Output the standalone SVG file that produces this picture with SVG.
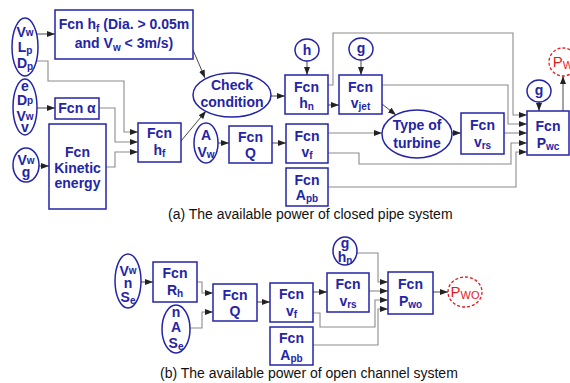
<svg xmlns="http://www.w3.org/2000/svg" width="570" height="383" viewBox="0 0 570 383">
<style>
.n{fill:#fff;stroke:#2424a6;stroke-width:1.5}
.t{font-family:"Liberation Sans",Arial,sans-serif;font-weight:bold;font-size:14px;fill:#2424a6;text-anchor:middle}
.s{font-size:10px}
.c{fill:none;stroke:#8c8c8c;stroke-width:1.1;marker-end:url(#a)}
.k{fill:none;stroke:#333;stroke-width:0.9;marker-end:url(#a)}
.r{fill:#fff;stroke:#e81818;stroke-width:1.3;stroke-dasharray:3,2}
.rt{font-family:"Liberation Sans",Arial,sans-serif;font-size:15px;fill:#e81818;text-anchor:middle}
.cap{font-family:"Liberation Sans",Arial,sans-serif;font-size:14px;fill:#111}
</style>
<defs>
<marker id="a" viewBox="0 0 8 6" refX="8" refY="3" markerWidth="8" markerHeight="6" orient="auto" markerUnits="userSpaceOnUse"><path d="M0,0 L8,3 L0,6z" fill="#222"/></marker>
</defs>
<rect width="570" height="383" fill="#fff"/>
<g id="connectors">
<path class="k" d="M37,34 H55"/>
<path class="c" d="M37,61 H48 V81 H124 V132 H138"/>
<path class="k" d="M37,108 H55"/>
<path class="c" d="M99,108 H115 V142 H138"/>
<path class="k" d="M39,166 H49"/>
<path class="c" d="M106,167 H115 V152 H138"/>
<path class="k" d="M193,50 L205,78"/>
<path class="k" d="M181,141 L206,111"/>
<path class="k" d="M271,96 H285"/>
<path class="k" d="M307,61 V75"/>
<path class="k" d="M361,60 V75"/>
<path class="k" d="M328,105 H339"/>
<path class="c" d="M328,85 H333 V33 H513 V115 H527"/>
<path class="c" d="M382,85 H508 V124 H527"/>
<path class="k" d="M382,104 L396,115"/>
<path class="k" d="M218,143 H229"/>
<path class="k" d="M272,143 H286"/>
<path class="c" d="M328,133 H382"/>
<path class="k" d="M452,133 H461"/>
<path class="c" d="M504,133 H527"/>
<path class="c" d="M328,153 H359 V164 H511 V143 H527"/>
<path class="c" d="M328,187 H516 V152 H527"/>
<path class="k" d="M539,102 V111"/>
<path class="k" d="M563,111 V76"/>
<path class="k" d="M141,282 H153"/>
<path class="c" d="M197,282 H202 V293 H213"/>
<path class="c" d="M190,328 H202 V312 H213"/>
<path class="k" d="M257,302 H270"/>
<path class="k" d="M313,292 H327"/>
<path class="c" d="M357,253 H378 V282 H388"/>
<path class="c" d="M369,291 H388"/>
<path class="c" d="M313,313 H320 V327 H375 V300 H388"/>
<path class="c" d="M313,345 H378 V309 H388"/>
<path class="k" d="M433,292 H448"/>
</g>
<g id="in-VLD"><ellipse class="n" cx="25" cy="47" rx="13" ry="29"/>
<text class="t" x="25" y="37">V<tspan class="s" dy="-1">w</tspan></text>
<text class="t" x="25" y="52">L<tspan class="s" dy="2">p</tspan></text>
<text class="t" x="25" y="68">D<tspan class="s" dy="2">p</tspan></text></g>
<g id="fcn-hf-cond"><rect class="n" x="55" y="10" width="138" height="49"/>
<text class="t" x="124" y="29">Fcn h<tspan class="s" dy="3">f</tspan><tspan dy="-3"> (Dia. &gt; 0.05m</tspan></text>
<text class="t" x="124" y="48">and V<tspan class="s" dy="3">w</tspan><tspan dy="-3"> &lt; 3m/s)</tspan></text></g>
<g id="in-eDVv"><ellipse class="n" cx="25" cy="107" rx="12" ry="28"/>
<text class="t" x="25" y="91">e</text>
<text class="t" x="25" y="105">D<tspan class="s" dy="-1">p</tspan></text>
<text class="t" x="25" y="121">V<tspan class="s" dy="-1">w</tspan></text>
<text class="t" x="25" y="132">v</text></g>
<g id="fcn-alpha"><rect class="n" x="55" y="98" width="44" height="21"/>
<text class="t" x="77" y="113">Fcn α</text></g>
<g id="in-Vg"><ellipse class="n" cx="26" cy="165" rx="13" ry="17"/>
<text class="t" x="26" y="165">V<tspan class="s" dy="-1">w</tspan></text>
<text class="t" x="26" y="177">g</text></g>
<g id="fcn-kinetic"><rect class="n" x="49" y="124" width="57" height="85"/>
<text class="t" x="77.5" y="157">Fcn</text>
<text class="t" x="77.5" y="173">Kinetic</text>
<text class="t" x="77.5" y="188">energy</text></g>
<g id="fcn-hf"><rect class="n" x="138" y="123" width="43" height="39"/>
<text class="t" x="159.5" y="138">Fcn</text>
<text class="t" x="159.5" y="155">h<tspan class="s" dy="2">f</tspan></text></g>
<g id="check"><ellipse class="n" cx="232" cy="95" rx="39" ry="22"/>
<text class="t" x="232" y="90">Check</text>
<text class="t" x="232" y="107">condition</text></g>
<g id="in-h"><ellipse class="n" cx="307" cy="50" rx="12" ry="11"/>
<text class="t" x="307" y="55">h</text></g>
<g id="fcn-hn"><rect class="n" x="285" y="75" width="43" height="39"/>
<text class="t" x="306.5" y="92">Fcn</text>
<text class="t" x="306.5" y="108">h<tspan class="s" dy="2">n</tspan></text></g>
<g id="in-g1"><ellipse class="n" cx="361" cy="49" rx="12" ry="11"/>
<text class="t" x="361" y="53">g</text></g>
<g id="fcn-vjet"><rect class="n" x="339" y="75" width="43" height="39"/>
<text class="t" x="360.5" y="92">Fcn</text>
<text class="t" x="360.5" y="108">v<tspan class="s" dy="2">jet</tspan></text></g>
<g id="in-AV"><ellipse class="n" cx="206" cy="143" rx="12" ry="20"/>
<text class="t" x="206" y="140">A</text>
<text class="t" x="206" y="157">V<tspan class="s" dy="1">w</tspan></text></g>
<g id="fcn-Q1"><rect class="n" x="229" y="126" width="43" height="37"/>
<text class="t" x="250.5" y="142">Fcn</text>
<text class="t" x="250.5" y="158">Q</text></g>
<g id="fcn-vf1"><rect class="n" x="286" y="124" width="42" height="39"/>
<text class="t" x="307" y="141">Fcn</text>
<text class="t" x="307" y="157">v<tspan class="s" dy="2">f</tspan></text></g>
<g id="fcn-apb1"><rect class="n" x="286" y="168" width="42" height="38"/>
<text class="t" x="307" y="185">Fcn</text>
<text class="t" x="307" y="200">A<tspan class="s" dy="2">pb</tspan></text></g>
<g id="turbine"><ellipse class="n" cx="417" cy="134" rx="35" ry="24"/>
<text class="t" x="417" y="130">Type of</text>
<text class="t" x="417" y="148">turbine</text></g>
<g id="fcn-vrs1"><rect class="n" x="461" y="113" width="43" height="41"/>
<text class="t" x="482.5" y="130">Fcn</text>
<text class="t" x="482.5" y="147">v<tspan class="s" dy="2">rs</tspan></text></g>
<g id="in-g2"><ellipse class="n" cx="539" cy="91" rx="12" ry="11"/>
<text class="t" x="539" y="95">g</text></g>
<g id="fcn-pwc"><rect class="n" x="527" y="111" width="42" height="44"/>
<text class="t" x="548" y="131">Fcn</text>
<text class="t" x="548" y="148">P<tspan class="s" dy="2">wc</tspan></text></g>
<g id="out-pw"><ellipse class="r" cx="563" cy="62" rx="14" ry="14"/>
<text class="rt" x="563" y="67">P<tspan font-size="11" dy="2">W</tspan></text></g>
<text class="cap" x="168" y="219">(a) The available power of closed pipe system</text>
<g id="in-VnS"><ellipse class="n" cx="128" cy="281" rx="13" ry="27"/>
<text class="t" x="128" y="276">V<tspan class="s" dy="-2">w</tspan></text>
<text class="t" x="128" y="288">n</text>
<text class="t" x="128" y="302">S<tspan class="s" dy="2">e</tspan></text></g>
<g id="fcn-Rh"><rect class="n" x="153" y="262" width="44" height="40"/>
<text class="t" x="175" y="278">Fcn</text>
<text class="t" x="175" y="295">R<tspan class="s" dy="2">h</tspan></text></g>
<g id="in-nAS"><ellipse class="n" cx="176" cy="329" rx="14" ry="24"/>
<text class="t" x="176" y="317">n</text>
<text class="t" x="176" y="332">A</text>
<text class="t" x="176" y="348">S<tspan class="s" dy="2">e</tspan></text></g>
<g id="fcn-Q2"><rect class="n" x="213" y="284" width="44" height="37"/>
<text class="t" x="235" y="300">Fcn</text>
<text class="t" x="235" y="316">Q</text></g>
<g id="fcn-vf2"><rect class="n" x="270" y="283" width="43" height="39"/>
<text class="t" x="291.5" y="299">Fcn</text>
<text class="t" x="291.5" y="316">v<tspan class="s" dy="2">f</tspan></text></g>
<g id="fcn-apb2"><rect class="n" x="270" y="327" width="43" height="38"/>
<text class="t" x="291.5" y="343">Fcn</text>
<text class="t" x="291.5" y="360">A<tspan class="s" dy="2">pb</tspan></text></g>
<g id="in-ghn"><ellipse class="n" cx="345" cy="251" rx="12" ry="14"/>
<text class="t" x="345" y="248">g</text>
<text class="t" x="345" y="262">h<tspan class="s" dy="2">n</tspan></text></g>
<g id="fcn-vrs2"><rect class="n" x="327" y="273" width="42" height="39"/>
<text class="t" x="348" y="289">Fcn</text>
<text class="t" x="348" y="306">v<tspan class="s" dy="2">rs</tspan></text></g>
<g id="fcn-pwo"><rect class="n" x="388" y="272" width="45" height="42"/>
<text class="t" x="410.5" y="289">Fcn</text>
<text class="t" x="410.5" y="306">P<tspan class="s" dy="2">wo</tspan></text></g>
<g id="out-pwo"><ellipse class="r" cx="465" cy="292" rx="17" ry="15"/>
<text class="rt" x="465" y="297">P<tspan font-size="11" dy="2">WO</tspan></text></g>
<text class="cap" x="160" y="378">(b) The available power of open channel system</text>
</svg>
